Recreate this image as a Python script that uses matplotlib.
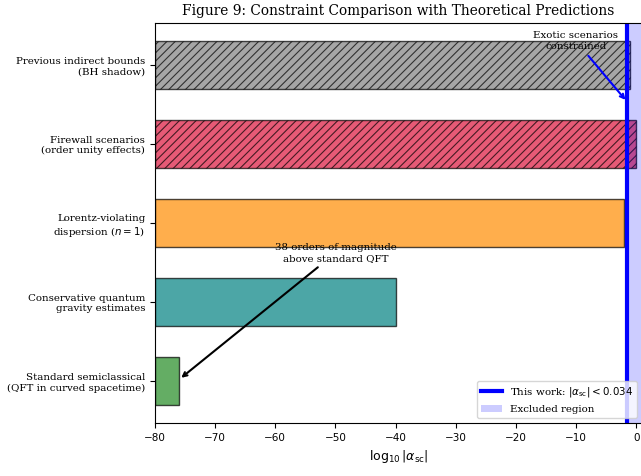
import numpy as np
import matplotlib
matplotlib.use("Agg")
import matplotlib.pyplot as plt

plt.rcParams["font.family"] = "DejaVu Serif"
plt.rcParams["mathtext.fontset"] = "dejavusans"
plt.rcParams["hatch.linewidth"] = 0.8

# data
categories = [
    "Standard semiclassical\n(QFT in curved spacetime)",
    "Conservative quantum\ngravity estimates",
    "Lorentz-violating\ndispersion ($n = 1$)",
    "Firewall scenarios\n(order unity effects)",
    "Previous indirect bounds\n(BH shadow)",
]
log_alpha = [-76, -40, -2, 0, -1]
bar_colors = ["forestgreen", "teal", "darkorange", "crimson", "gray"]
hatches = ["", "", "", "////", "////"]
alpha_limit = 0.034
x_min, x_max = -80, 1

fig = plt.figure(figsize=(6.41, 4.76), dpi=100)
ax = fig.add_axes([0.2418, 0.1113, 0.76, 0.8404])

y = np.arange(len(categories))
for yi, val, c, h in zip(y, log_alpha, bar_colors, hatches):
    ax.barh(yi, val - x_min, left=x_min, height=0.6, color=c, alpha=0.7,
            edgecolor="black", linewidth=1, hatch=h)

limit = np.log10(alpha_limit)
ax.axvline(limit, color="blue", linewidth=3,
           label=r"This work: $|\alpha_{\rm sc}| < 0.034$")
ax.axvspan(limit, x_max, color="blue", alpha=0.2, linewidth=0, label="Excluded region")

ax.annotate("38 orders of magnitude\nabove standard QFT", xy=(-76, 0.02), xytext=(-50, 1.62),
            ha="center", va="center", fontsize=7.4,
            arrowprops=dict(arrowstyle="->", color="black", lw=1.5))
ax.annotate("Exotic scenarios\nconstrained", xy=(limit, 3.53), xytext=(-10, 4.3),
            ha="center", va="center", fontsize=7.4,
            arrowprops=dict(arrowstyle="->", color="blue", lw=1.5))

ax.set_xlim(x_min, x_max)
ax.set_yticks(y)
ax.set_yticklabels(categories, fontsize=7.4)
ax.set_xticks(np.arange(-80, 1, 10))
ax.tick_params(axis="x", labelsize=7.5)
for lbl in ax.get_xticklabels():
    lbl.set_fontfamily("DejaVu Sans")
ax.set_xlabel(r"$\log_{10}|\alpha_{\rm sc}|$", fontsize=9)
ax.set_title("Figure 9: Constraint Comparison with Theoretical Predictions", fontsize=9.9)
ax.legend(loc="lower right", fontsize=7.4)

fig.savefig("out.png", dpi=100)
